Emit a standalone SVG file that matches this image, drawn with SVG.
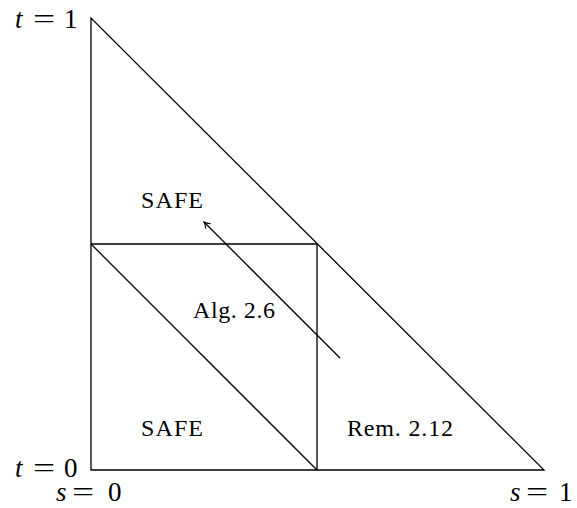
<svg xmlns="http://www.w3.org/2000/svg" width="577" height="508" viewBox="0 0 577 508">
<style>
.ln{fill:none;stroke:#000;stroke-width:1.3;stroke-linejoin:miter}
.tx{font-family:"Liberation Serif","DejaVu Serif",serif;font-size:24px;fill:#000}
.mt{font-family:"Liberation Serif","DejaVu Serif",serif;font-size:27px;fill:#000}
.it{font-style:italic}
</style>
<defs>
<marker id="ah" markerWidth="10" markerHeight="10" refX="8" refY="5" orient="auto" markerUnits="userSpaceOnUse">
<path d="M2,1.5 Q5,4 8,5 Q5,6 2,8.5" fill="none" stroke="#000" stroke-width="1.1"/>
</marker>
</defs>
<rect width="577" height="508" fill="#fff"/>
<g id="connectors">
<path class="ln" d="M91,18 L91,470 L544,470 Z"/>
<path class="ln" d="M91,244 L317,244 L317,470"/>
<path class="ln" d="M91,244 L317,470"/>
<path class="ln" d="M340,358 L204,222" marker-end="url(#ah)"/>
</g>
<g id="labels">
<text class="mt it" x="15" y="28">t</text>
<text class="mt" transform="translate(33,28) scale(1.45,1)">=</text>
<text class="mt" x="64" y="28">1</text>
<text class="mt it" x="15" y="477">t</text>
<text class="mt" transform="translate(33,477) scale(1.45,1)">=</text>
<text class="mt" x="64" y="477">0</text>
<text class="mt it" x="56" y="501">s</text>
<text class="mt" transform="translate(72,501) scale(1.45,1)">=</text>
<text class="mt" x="108" y="501">0</text>
<text class="mt it" x="510" y="501">s</text>
<text class="mt" transform="translate(526,501) scale(1.45,1)">=</text>
<text class="mt" x="559" y="501">1</text>
</g>
<g id="safe-top"><text class="tx" x="141" y="208" textLength="62">SAFE</text></g>
<g id="safe-bottom"><text class="tx" x="141" y="436" textLength="62">SAFE</text></g>
<g id="alg"><text class="tx" x="193" y="318" textLength="82">Alg. 2.6</text></g>
<g id="rem"><text class="tx" x="347" y="436" textLength="106">Rem. 2.12</text></g>
</svg>
